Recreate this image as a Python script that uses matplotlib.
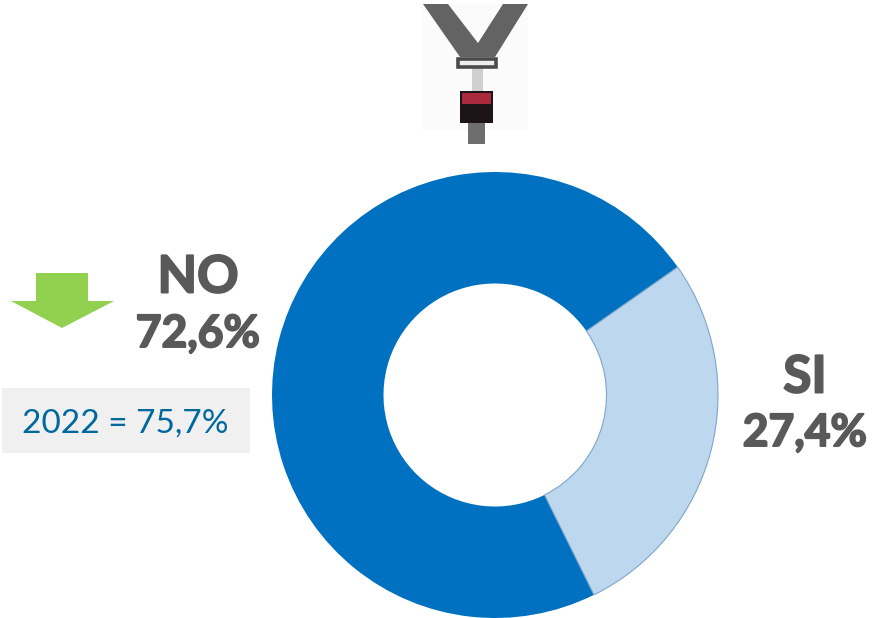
import matplotlib
matplotlib.use("Agg")
import matplotlib.pyplot as plt
import matplotlib.patheffects as pe
from matplotlib.patches import Polygon, Rectangle

labels = ["SI", "NO"]
values = [27.4, 72.6]
value_labels = ["27,4%", "72,6%"]
previous_label = "2022 = 75,7%"

W, H = 872, 618
plt.rcParams['font.family'] = ['Lato', 'DejaVu Sans']

fig = plt.figure(figsize=(W / 100, H / 100), dpi=100)

# donut, axes placed in pixels
cx, cy, r = 495, 395, 223
ax_pie = fig.add_axes([(cx - r) / W, 1 - (cy + r) / H, 2 * r / W, 2 * r / H])
ax_pie.pie(values, colors=["#BDD7EE", "#0070C0"], startangle=35, counterclock=False,
           radius=1, wedgeprops=dict(width=0.5, edgecolor="#7FA6C9", linewidth=0.8))
ax_pie.patches[1].set_edgecolor("none")
ax_pie.patches[1].set_zorder(1)
ax_pie.patches[0].set_zorder(2)
ax_pie.set_xlim(-1, 1)
ax_pie.set_ylim(-1, 1)

# overlay in image pixels
ax = fig.add_axes([0, 0, 1, 1])
ax.set_xlim(0, W)
ax.set_ylim(H, 0)
ax.axis("off")
ax.patch.set_alpha(0)

# seat belt
ax.add_patch(Rectangle((422, 4), 106, 126, fc="#FBFBFB", ec="none"))
belt = "#636363"
ax.add_patch(Polygon([(423, 4), (448, 4), (478, 43), (503, 4), (528, 4), (495, 57), (460, 57)], fc=belt, ec="none"))
ax.add_patch(Rectangle((468, 123), 17, 21, fc="#6E6E6E", ec="none"))
ax.add_patch(Rectangle((472, 66), 11, 26, fc="#CFCFCF", ec="none"))
ax.add_patch(Rectangle((458, 59), 38, 8, fc="#EDEDED", ec="#4A4A4A", lw=2.6))
ax.add_patch(Rectangle((460, 91), 33, 32, fc="#1C1416", ec="none"))
ax.add_patch(Rectangle((462, 93), 29, 11, fc="#A82A3C", ec="none"))

# green arrow
ax.add_patch(Polygon([(36, 273), (88, 273), (88, 301), (114, 301), (62, 328), (11, 301), (36, 301)],
                     fc="#92D050", ec="none"))

# previous year box
ax.add_patch(Rectangle((2, 388), 248, 65, fc="#F0F0F0", ec="none"))
ax.text(125.5, 423.5, previous_label, color="#00689D", fontsize=24, ha="center", va="center")

# labels, Lato bold comes out thin so thicken it with a stroke
grey = "#595959"
thick = [pe.withStroke(linewidth=1.4, foreground=grey)]
no_big = ax.text(198, 278, labels[1], color=grey, fontsize=37, fontweight="bold", ha="center", va="center")
no_val = ax.text(198, 334, value_labels[1], color=grey, fontsize=32, fontweight="bold", ha="center", va="center")
si_big = ax.text(805, 378, labels[0], color=grey, fontsize=37, fontweight="bold", ha="center", va="center")
si_val = ax.text(805, 433, value_labels[0], color=grey, fontsize=32, fontweight="bold", ha="center", va="center")
for t in [no_big, no_val, si_big, si_val]:
    t.set_path_effects(thick)

fig.savefig("out.png", dpi=100)
